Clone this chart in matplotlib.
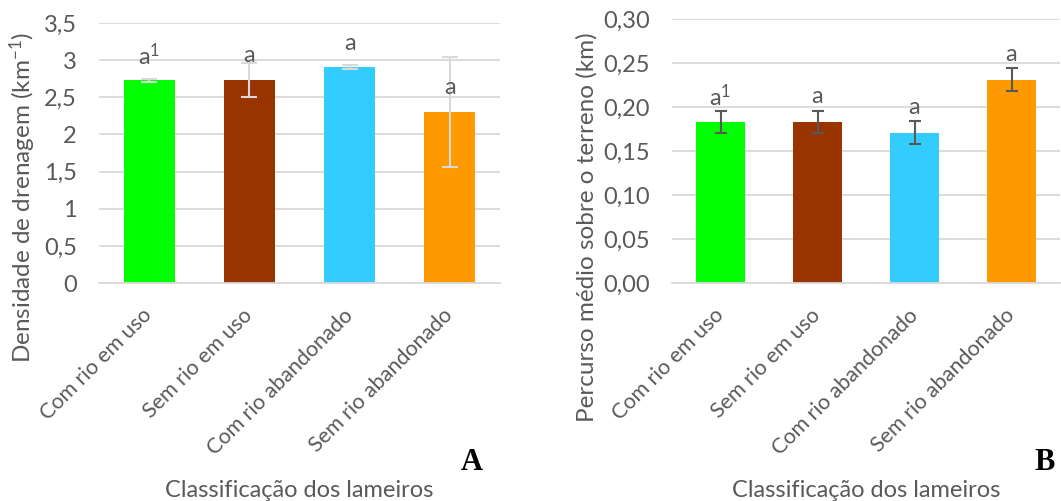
import numpy as np
import matplotlib
matplotlib.use('Agg')
import matplotlib.pyplot as plt

plt.rcParams['font.family'] = ['Lato', 'DejaVu Sans']
plt.rcParams['mathtext.fontset'] = 'custom'
plt.rcParams['mathtext.rm'] = 'Lato'
plt.rcParams['mathtext.it'] = 'Lato'
cinza = '#595959'
grelha = '#d9d9d9'

# dados
categorias = ['Com rio em uso', 'Sem rio em uso', 'Com rio abandonado', 'Sem rio abandonado']
cores = ['#00ff00', '#993300', '#33ccff', '#ff9900']
dd_media = [2.73, 2.73, 2.91, 2.30]          # densidade de drenagem (km-1)
dd_erro = [0.02, 0.23, 0.03, 0.74]
dd_letras = ['a$^{1}$', 'a', 'a', 'a']
dd_letras_y = [3.06, 3.06, 3.23, 2.63]
pm_media = [0.183, 0.183, 0.171, 0.231]      # percurso medio sobre o terreno (km)
pm_erro = [0.013, 0.013, 0.013, 0.013]
pm_letras = ['a$^{1}$', 'a', 'a', 'a']
pm_letras_y = [0.212, 0.212, 0.199, 0.260]

fig = plt.figure(figsize=(10.61, 5.01), dpi=100)
axA = fig.add_axes([0.0933, 0.435, 0.378, 0.519])
axB = fig.add_axes([0.6334, 0.435, 0.3657, 0.527])

def desenha(ax, media, erro, cor_erro, cap, letras, letras_y, ylim, ticks, fmt, ylabel,
            ylab_pos, xlab_y):
    x = np.arange(len(categorias))
    ax.bar(x, media, width=0.51, color=cores, zorder=2)
    ax.errorbar(x, media, yerr=erro, fmt='none', ecolor=cor_erro, elinewidth=1.5,
                capsize=cap, capthick=1.5, zorder=3)
    for xi, t, yi in zip(x, letras, letras_y):
        ax.text(xi, yi, t, ha='center', va='center', fontsize=17, color=cinza, zorder=4)
    ax.set_xlim(-0.5, len(categorias) - 0.5)
    ax.set_ylim(*ylim)
    ax.set_yticks(ticks)
    ax.set_yticklabels([fmt(t) for t in ticks])
    ax.yaxis.grid(True, color=grelha, lw=1.3, zorder=0)
    ax.set_axisbelow(True)
    for s in ['top', 'right', 'left']:
        ax.spines[s].set_visible(False)
    ax.spines['bottom'].set_color(grelha)
    ax.spines['bottom'].set_linewidth(1.3)
    ax.tick_params(axis='both', length=0, labelsize=17, colors=cinza)
    ax.tick_params(axis='y', pad=16)
    ax.tick_params(axis='x', pad=21, labelsize=15.5)
    ax.set_xticks(x)
    ax.set_xticklabels(categorias, rotation=45, ha='right', va='center', rotation_mode='anchor')
    ax.set_xlabel('Classificação dos lameiros', fontsize=17, color=cinza, va='center')
    ax.xaxis.set_label_coords(0.5, xlab_y)
    ax.set_ylabel(ylabel, fontsize=17.5, color=cinza, va='center')
    ax.yaxis.set_label_coords(*ylab_pos)

desenha(axA, dd_media, dd_erro, grelha, 6, dd_letras, dd_letras_y, (0, 3.5),
        np.arange(0, 3.51, 0.5), lambda t: ('%g' % t).replace('.', ','),
        'Densidade de drenagem (km$^{-1}$)', (-0.19, 0.33), -0.796)
desenha(axB, pm_media, pm_erro, cinza, 4.5, pm_letras, pm_letras_y, (0, 0.30),
        np.arange(0, 0.301, 0.05), lambda t: ('%.2f' % t).replace('.', ','),
        'Percurso médio sobre o terreno (km)', (-0.219, 0.21), -0.784)

fig.text(472 / 1061, 1 - 462 / 501, 'A', fontsize=22, fontweight='bold',
         family='Liberation Serif', ha='center', va='center', color='black')
fig.text(1045 / 1061, 1 - 462 / 501, 'B', fontsize=22, fontweight='bold',
         family='Liberation Serif', ha='center', va='center', color='black')

fig.savefig('out.png', dpi=100)
